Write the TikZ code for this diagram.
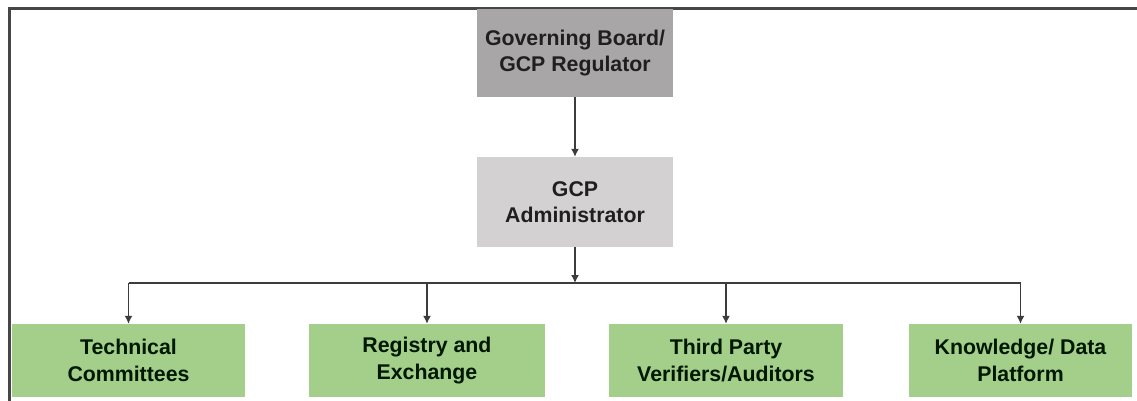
\documentclass[tikz,border=0pt]{standalone}
\usepackage{fontspec}
\setmainfont{Liberation Sans}
\usetikzlibrary{arrows.meta}
\definecolor{boardgray}{RGB}{168,166,166}
\definecolor{admingray}{RGB}{211,209,209}
\definecolor{leafgreen}{RGB}{164,207,139}
\definecolor{framegray}{RGB}{70,70,70}
\definecolor{linegray}{RGB}{60,60,60}
\tikzset{
  box/.style={draw=none, inner sep=0pt, align=center, font=\fontsize{21.3}{26.5}\selectfont\bfseries, text=black!88},
  topbox/.style={box, fill=boardgray, minimum width=196pt, minimum height=88pt},
  adminbox/.style={box, fill=admingray, minimum width=196pt, minimum height=90pt},
  leaf/.style={box, fill=leafgreen, minimum height=73pt, text=black!85!green!60!black},
  conn/.style={draw=linegray, line width=1.4pt},
  arr/.style={conn, -{Latex[length=8pt,width=8pt]}},
}
\begin{document}
\begin{tikzpicture}[x=1pt,y=1pt]
\useasboundingbox (0,0) rectangle (1137,-400);
\draw[framegray, line width=3pt] (9,-401) -- (9,-8) -- (1138,-8);
\node[topbox] (board) at (575,-53) {Governing Board/\\GCP Regulator};
\node[adminbox] (admin) at (575,-202) {GCP\\Administrator};
\node[leaf, minimum width=233pt] (tc) at (128.5,-360.5) {Technical\\Committees};
\node[leaf, minimum width=236pt] (reg) at (427,-360.5) {Registry and\\Exchange};
\node[leaf, minimum width=234pt] (tpv) at (726,-360.5) {Third Party\\Verifiers/Auditors};
\node[leaf, minimum width=223pt] (kdp) at (1020.5,-360.5) {Knowledge/ Data\\Platform};
\coordinate (bus) at (575,-283);
\draw[arr] (board) -- (admin);
\draw[arr] (admin) -- (bus);
\draw[conn] (tc.north |- bus) -- (kdp.north |- bus);
\foreach \n in {tc,reg,tpv,kdp}{
  \draw[arr] (\n.north |- bus) -- (\n.north);
}
\end{tikzpicture}
\end{document}
